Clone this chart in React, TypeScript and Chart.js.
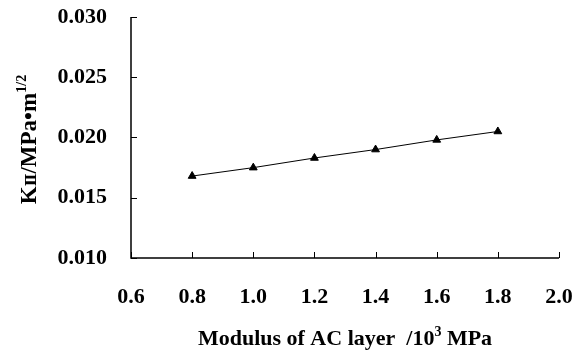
import React, { useEffect, useRef } from "react";
import { Chart, registerables } from "chart.js";

Chart.register(...registerables);

const modulus = [0.8, 1.0, 1.2, 1.4, 1.6, 1.8];
const k2Values = [0.0168, 0.0175, 0.0183, 0.019, 0.0198, 0.0205];
const xTicks = [0.6, 0.8, 1.0, 1.2, 1.4, 1.6, 1.8, 2.0];
const yTicks = [0.01, 0.015, 0.02, 0.025, 0.03];

const FONT = "'Liberation Serif', 'Times New Roman', serif";
const NUMERAL_FONT = "'DejaVu Serif', serif";

type Part = { text: string; size: number; font: string; rise: number };

const xTitleParts: Part[] = [
  { text: "Modulus of AC layer  /10", size: 22, font: FONT, rise: 0 },
  { text: "3", size: 14, font: FONT, rise: 9 },
  { text: " MPa", size: 22, font: FONT, rise: 0 },
];
const yTitleParts: Part[] = [
  { text: "K", size: 23, font: FONT, rise: 0 },
  { text: "Ⅱ", size: 15, font: NUMERAL_FONT, rise: 0 },
  { text: "/MPa•m", size: 23, font: FONT, rise: 0 },
  { text: "1/2", size: 14, font: FONT, rise: 10 },
];

function drawParts(ctx: CanvasRenderingContext2D, parts: Part[], cx: number, cy: number) {
  let total = 0;
  const widths = parts.map((p) => {
    ctx.font = `bold ${p.size}px ${p.font}`;
    const w = ctx.measureText(p.text).width;
    total += w;
    return w;
  });
  let x = cx - total / 2;
  ctx.textBaseline = "alphabetic";
  ctx.textAlign = "left";
  parts.forEach((p, i) => {
    ctx.font = `bold ${p.size}px ${p.font}`;
    ctx.fillText(p.text, x, cy - p.rise);
    x += widths[i];
  });
}

const customPlugin = {
  id: "customAxes",
  afterDraw(chart: any) {
    const ctx = chart.ctx as CanvasRenderingContext2D;
    const { left, right, top, bottom } = chart.chartArea;
    const xs = chart.scales.x;
    const ys = chart.scales.y;
    ctx.save();
    ctx.strokeStyle = "#000";
    ctx.lineWidth = 1.5;
    ctx.beginPath();
    ctx.moveTo(left, top);
    ctx.lineTo(left, bottom);
    ctx.lineTo(right, bottom);
    ctx.stroke();
    ctx.lineWidth = 1;
    yTicks.forEach((v) => {
      const y = Math.round(ys.getPixelForValue(v)) + 0.5;
      ctx.beginPath();
      ctx.moveTo(left, y);
      ctx.lineTo(left + 6, y);
      ctx.stroke();
    });
    xTicks.forEach((v) => {
      const x = Math.round(xs.getPixelForValue(v)) + 0.5;
      ctx.beginPath();
      ctx.moveTo(x, bottom);
      ctx.lineTo(x, bottom - 6);
      ctx.stroke();
    });
    ctx.fillStyle = "#000";
    drawParts(ctx, xTitleParts, (left + right) / 2, 345);
    ctx.translate(36, (top + bottom) / 2 + 2);
    ctx.rotate(-Math.PI / 2);
    drawParts(ctx, yTitleParts, 0, 0);
    ctx.restore();
  },
};

const zeroPad = (s: any) => {
  s.paddingTop = 0;
  s.paddingBottom = 0;
  s.paddingLeft = 0;
  s.paddingRight = 0;
};

export default function App() {
  const ref = useRef<HTMLCanvasElement | null>(null);
  useEffect(() => {
    if (!ref.current) return;
    const chart = new Chart(ref.current, {
      type: "scatter",
      data: {
        datasets: [
          {
            data: modulus.map((x, i) => ({ x, y: k2Values[i] })),
            showLine: true,
            borderColor: "#000",
            borderWidth: 1,
            backgroundColor: "#000",
            pointStyle: "triangle",
            pointRadius: 4.5,
            pointBorderWidth: 1,
            tension: 0,
          },
        ],
      },
      options: {
        animation: false,
        responsive: false,
        devicePixelRatio: 1,
        layout: { padding: { top: 17, right: 16, left: 0, bottom: 0 } },
        plugins: { legend: { display: false }, tooltip: { enabled: false } },
        scales: {
          x: {
            type: "linear",
            min: 0.6,
            max: 2.0,
            afterBuildTicks: (s: any) => {
              s.ticks = xTicks.map((v) => ({ value: v }));
            },
            afterFit: (s: any) => {
              s.height = 94;
              zeroPad(s);
            },
            border: { display: false },
            grid: { display: false, drawTicks: false },
            ticks: {
              color: "#000",
              padding: 26,
              font: { family: FONT, size: 22, weight: "bold" },
              callback: (v: any) => Number(v).toFixed(1),
            },
          },
          y: {
            type: "linear",
            min: 0.01,
            max: 0.03,
            afterBuildTicks: (s: any) => {
              s.ticks = yTicks.map((v) => ({ value: v }));
            },
            afterFit: (s: any) => {
              s.width = 131;
              zeroPad(s);
            },
            border: { display: false },
            grid: { display: false, drawTicks: false },
            ticks: {
              color: "#000",
              padding: 24,
              font: { family: FONT, size: 22, weight: "bold" },
              callback: (v: any) => Number(v).toFixed(3),
            },
          },
        },
      },
      plugins: [customPlugin],
    });
    return () => chart.destroy();
  }, []);
  return (
    <div style={{ position: "fixed", left: 0, top: 0, width: 575, height: 352, background: "#fff" }}>
      <canvas ref={ref} width={575} height={352} />
    </div>
  );
}
